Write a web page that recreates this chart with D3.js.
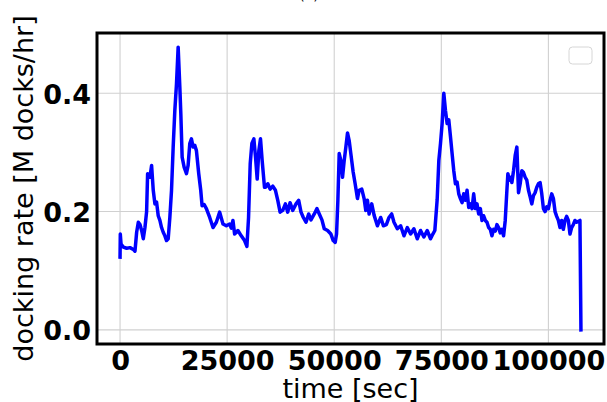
<!DOCTYPE html>
<html>
<head>
<meta charset="utf-8">
<script src="https://cdn.jsdelivr.net/npm/d3@7"></script>
<style>
  html, body { margin: 0; padding: 0; background: #fff; }
  svg { display: block; }
  text { font-family: "DejaVu Sans", sans-serif; }
</style>
</head>
<body>
<svg id="chart" width="607" height="402"></svg>
<script>
// Docking rate over simulation time
const timeSec = [
  0, 60, 233, 775, 1550, 2326, 3101, 3488, 3876, 4264, 4651, 5039, 5426, 5814, 6202, 6434,
  6977, 7364, 7752, 8140, 8527, 8915, 9302, 9690, 10078, 10465, 10853, 11240, 11628, 12016,
  12403, 12791, 13178, 13566, 13954, 14186, 14496, 14961, 15504, 15892, 16279, 16667, 17054,
  17442, 17830, 18372, 18837, 19147, 19613, 20155, 20930, 21706, 22481, 23256, 24031, 24806,
  25582, 25969, 26357, 26744, 27520, 28295, 29070, 29613, 30000, 30388, 30775, 31240, 31628,
  32016, 32403, 32791, 33178, 33721, 33954, 34497, 35039, 35660, 36280, 36822, 37365, 37985,
  38605, 39148, 39690, 40311, 41086, 41706, 42249, 42791, 43411, 44032, 44574, 45349, 45969,
  46512, 47132, 47675, 48450, 49225, 49768, 50233, 50543, 50853, 51163, 51551, 51939, 52326,
  52714, 53101, 53489, 53877, 54419, 54884, 55427, 55815, 56435, 56977, 57365, 57753, 58140,
  58760, 59303, 60078, 60853, 61473, 62171, 62791, 63411, 63954, 64729, 65504, 66280, 67055,
  67830, 68605, 69381, 70156, 70931, 71706, 72482, 73024, 73489, 74032, 74419, 74807, 75194,
  75582, 75970, 76357, 76745, 77132, 77520, 77908, 78295, 78683, 79070, 79458, 79846, 80233,
  80621, 81008, 81396, 81784, 82171, 82559, 82946, 83334, 83722, 84109, 84497, 84884, 85272,
  85660, 86047, 86435, 86822, 87210, 87598, 87985, 88373, 88760, 89148, 89536, 89923, 90311,
  90543, 90853, 91241, 91474, 91861, 92249, 92636, 93024, 93412, 93799, 94187, 94574, 94962,
  95350, 95737, 96125, 96512, 96900, 97288, 97675, 98063, 98450, 98838, 99226, 99613, 100001,
  100388, 100776, 101164, 101551, 101939, 102326, 102714, 103102, 103489, 103877, 104264,
  104652, 105040, 105427, 105815, 106202, 106590, 107365, 107600
];

const dockRate = [
  0.123, 0.162, 0.145, 0.140, 0.138, 0.139, 0.136, 0.133, 0.165, 0.182, 0.178, 0.168, 0.154, 0.173, 0.200, 0.264,
  0.258, 0.278, 0.236, 0.213, 0.216, 0.193, 0.185, 0.173, 0.165, 0.159, 0.151, 0.154, 0.190, 0.236,
  0.309, 0.371, 0.416, 0.478, 0.411, 0.366, 0.292, 0.275, 0.264, 0.278, 0.315, 0.323, 0.309,
  0.312, 0.303, 0.264, 0.236, 0.210, 0.212, 0.205, 0.190, 0.173, 0.182, 0.199, 0.179, 0.176,
  0.179, 0.172, 0.185, 0.162, 0.168, 0.159, 0.151, 0.141, 0.190, 0.281, 0.315, 0.323, 0.292,
  0.255, 0.303, 0.323, 0.286, 0.241, 0.241, 0.247, 0.238, 0.243, 0.236, 0.219, 0.199, 0.202,
  0.213, 0.199, 0.215, 0.202, 0.213, 0.219, 0.199, 0.190, 0.182, 0.196, 0.186, 0.196, 0.205,
  0.196, 0.186, 0.171, 0.168, 0.162, 0.151, 0.148, 0.162, 0.219, 0.298, 0.286, 0.258, 0.286,
  0.309, 0.333, 0.320, 0.298, 0.267, 0.247, 0.222, 0.236, 0.238, 0.222, 0.202, 0.219, 0.196,
  0.213, 0.194, 0.176, 0.190, 0.176, 0.178, 0.190, 0.196, 0.182, 0.171, 0.176, 0.159, 0.173,
  0.162, 0.171, 0.154, 0.168, 0.157, 0.168, 0.154, 0.162, 0.168, 0.220, 0.286, 0.315, 0.349,
  0.400, 0.371, 0.349, 0.355, 0.327, 0.298, 0.269, 0.247, 0.250, 0.230, 0.222, 0.215, 0.230,
  0.219, 0.236, 0.207, 0.213, 0.205, 0.230, 0.205, 0.213, 0.196, 0.205, 0.185, 0.193, 0.185,
  0.182, 0.173, 0.170, 0.159, 0.170, 0.167, 0.178, 0.173, 0.164, 0.170, 0.159, 0.185, 0.236,
  0.264, 0.253, 0.258, 0.249, 0.269, 0.295, 0.309, 0.232, 0.247, 0.269, 0.266, 0.258, 0.253,
  0.236, 0.225, 0.213, 0.227, 0.232, 0.241, 0.247, 0.249, 0.230, 0.205, 0.200, 0.208, 0.205,
  0.219, 0.230, 0.222, 0.200, 0.192, 0.185, 0.173, 0.185, 0.170, 0.185, 0.192,
  0.185, 0.162, 0.173, 0.178, 0.185, 0.182, 0.185, 0.000
];

const xTicks = [0, 25000, 50000, 75000, 100000];
const yTicks = [0.0, 0.2, 0.4];

const svg = d3.select("#chart");
const plot = { left: 97, right: 604, top: 33, bottom: 344 };

// autoscale with 5% padding on each side
function padded(ext) {
  const d = (ext[1] - ext[0]) * 0.05;
  return [ext[0] - d, ext[1] + d];
}

const x = d3.scaleLinear().domain(padded(d3.extent(timeSec))).range([plot.left, plot.right]);
const y = d3.scaleLinear().domain(padded(d3.extent(dockRate))).range([plot.bottom, plot.top]);

const data = timeSec.map((t, i) => [t, dockRate[i]]);

// grid
const grid = svg.append("g").attr("stroke", "#d0d0d0").attr("stroke-width", 1.1);
grid.selectAll("line.vx").data(xTicks).join("line")
  .attr("x1", d => x(d)).attr("x2", d => x(d))
  .attr("y1", plot.top).attr("y2", plot.bottom);
grid.selectAll("line.hy").data(yTicks).join("line")
  .attr("x1", plot.left).attr("x2", plot.right)
  .attr("y1", d => y(d)).attr("y2", d => y(d));

// clip to the axes area
svg.append("clipPath").attr("id", "clip")
  .append("rect")
  .attr("x", plot.left).attr("y", plot.top)
  .attr("width", plot.right - plot.left).attr("height", plot.bottom - plot.top);

const line = d3.line().x(d => x(d[0])).y(d => y(d[1]));
svg.append("path")
  .datum(data)
  .attr("clip-path", "url(#clip)")
  .attr("d", line)
  .attr("fill", "none")
  .attr("stroke", "#0000ff")
  .attr("stroke-width", 3.5)
  .attr("stroke-linejoin", "round")
  .attr("stroke-linecap", "square");

// frame
svg.append("rect")
  .attr("x", plot.left).attr("y", plot.top)
  .attr("width", plot.right - plot.left).attr("height", plot.bottom - plot.top)
  .attr("fill", "none").attr("stroke", "#000").attr("stroke-width", 3);

// axes with bold tick labels, no tick marks
const xAxis = d3.axisBottom(x).tickValues(xTicks).tickFormat(d3.format("d")).tickSize(0).tickPadding(0);
const gx = svg.append("g").attr("transform", `translate(0,${plot.bottom})`).call(xAxis);
gx.select(".domain").remove();
gx.selectAll("text")
  .attr("dy", null).attr("y", 26)
  .attr("font-family", "DejaVu Sans").attr("font-weight", "bold").attr("font-size", 27)
  .attr("fill", "#000");

const yAxis = d3.axisLeft(y).tickValues(yTicks).tickFormat(d3.format(".1f")).tickSize(0).tickPadding(0);
const gy = svg.append("g").attr("transform", `translate(${plot.left - 6},0)`).call(yAxis);
gy.select(".domain").remove();
gy.selectAll("text")
  .attr("dy", "0.36em").attr("x", 0)
  .attr("font-family", "DejaVu Sans").attr("font-weight", "bold").attr("font-size", 27)
  .attr("fill", "#000");

// axis titles
svg.append("text")
  .attr("x", (plot.left + plot.right) / 2).attr("y", 398)
  .attr("text-anchor", "middle").attr("font-size", 27).attr("fill", "#000")
  .text("time [sec]");

svg.append("text")
  .attr("transform", `translate(33,${(plot.top + plot.bottom) / 2}) rotate(-90)`)
  .attr("text-anchor", "middle").attr("font-size", 27).attr("fill", "#000")
  .text("docking rate [M docks/hr]");

// chart title above the frame
svg.append("text")
  .attr("x", 309).attr("y", 0)
  .attr("text-anchor", "middle").attr("font-size", 14).attr("fill", "#000")
  .text("(a)");

// empty legend frame, upper right
svg.append("rect")
  .attr("x", plot.right - 35).attr("y", plot.top + 14)
  .attr("width", 23).attr("height", 17).attr("rx", 3.5)
  .attr("fill", "#fff").attr("stroke", "#d6d6d6").attr("stroke-width", 1);
</script>
</body>
</html>
